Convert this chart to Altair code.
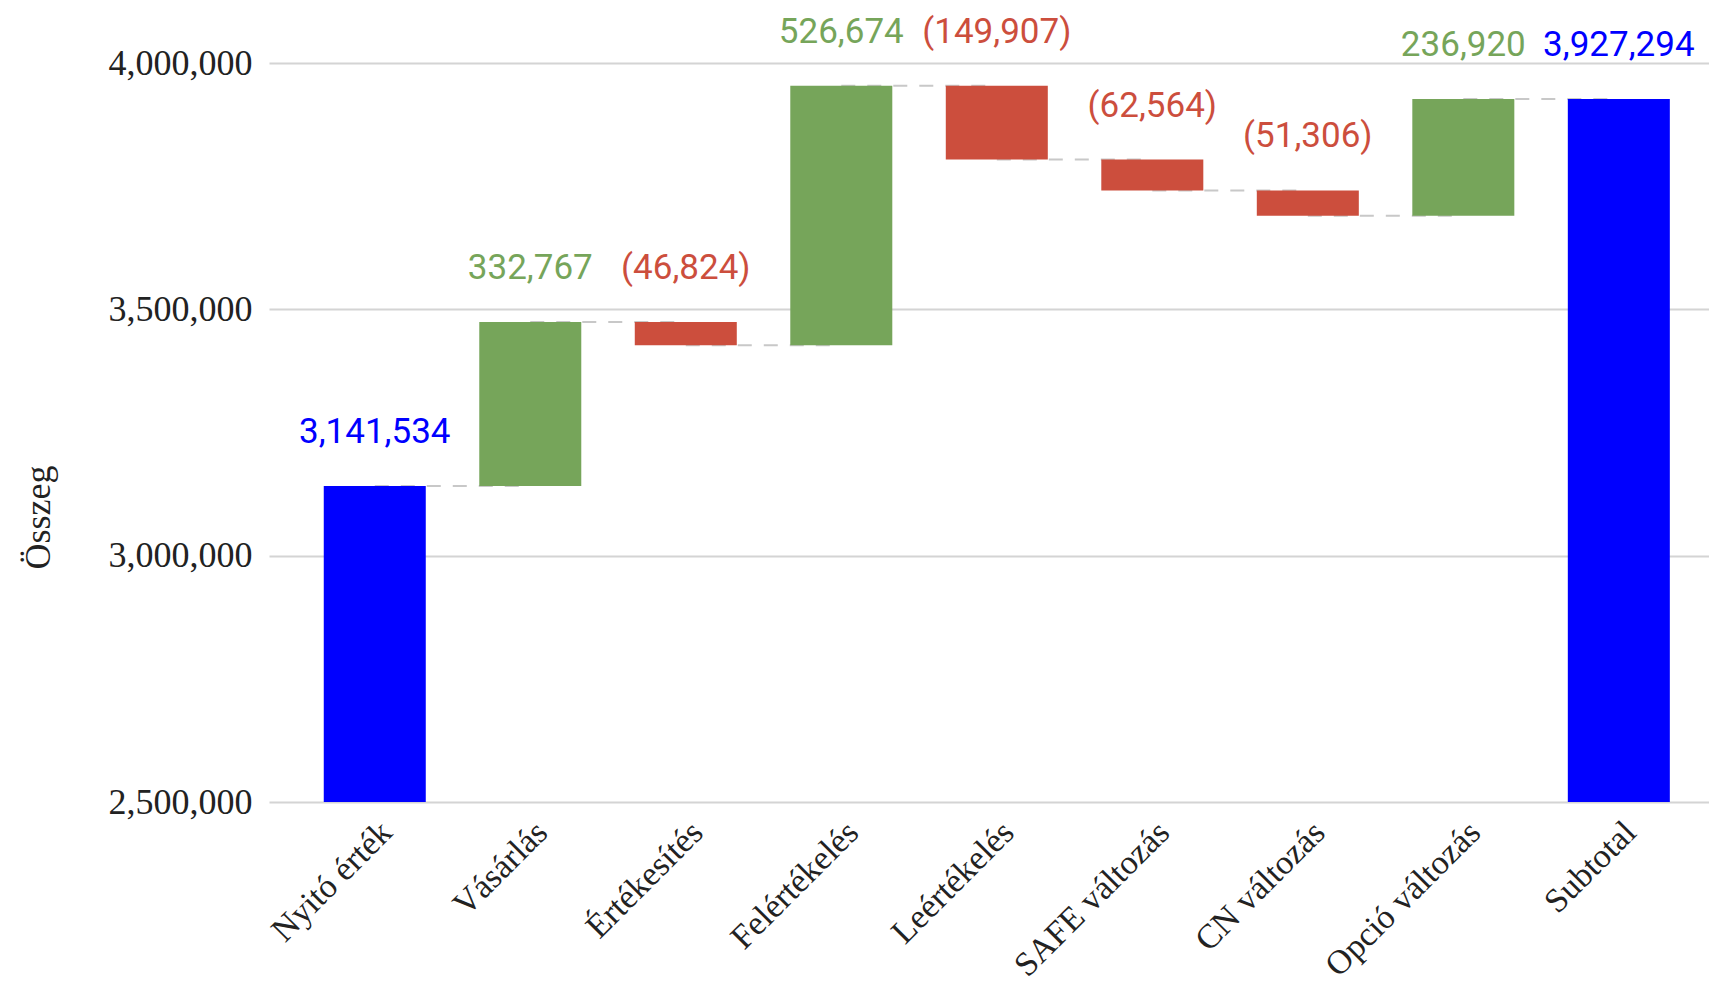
import altair as alt
import pandas as pd

categories = ["Nyitó érték", "Vásárlás", "Értékesítés", "Felértékelés", "Leértékelés",
              "SAFE változás", "CN változás", "Opció változás", "Subtotal"]
amounts = [3141534, 332767, -46824, 526674, -149907, -62564, -51306, 236920, 3927294]
kinds = ["total", "change", "change", "change", "change", "change", "change", "change", "total"]
y_ticks = [2500000, 3000000, 3500000, 4000000]

BLUE = "#0000ff"
GREEN = "#76a55a"
RED = "#cc4e3d"

rows = []
running = 0
for cat, amt, kind in zip(categories, amounts, kinds):
    if kind == "total":
        start, end = 0, amt
        running = amt
        color = BLUE
    else:
        start = running
        end = running + amt
        running = end
        color = GREEN if amt >= 0 else RED
    label = f"{abs(amt):,}" if amt >= 0 else f"({abs(amt):,})"
    rows.append(dict(category=cat, start=start, end=end, top=max(start, end),
                     label=label, color=color))
df = pd.DataFrame(rows)

conn = []
for i in range(len(categories) - 1):
    conn.append(dict(cat=categories[i], nxt=categories[i + 1], level=rows[i]["end"]))
cdf = pd.DataFrame(conn)

xscale = alt.Scale(domain=categories, paddingInner=0.344, paddingOuter=0.302, align=0.583)
xaxis = alt.Axis(title=None, labelAngle=315, labelAlign="right", labelBaseline="top",
                 labelFont="Liberation Serif", labelFontSize=34, labelColor="#222222",
                 labelPadding=13, labelOffset=0, ticks=False, domain=False, grid=False,
                 labelOverlap=False, labelLimit=0)
yscale = alt.Scale(domain=[2500000, 4112000], clamp=True, nice=False, zero=False)
yaxis = alt.Axis(title="Összeg", values=y_ticks, format=",.0f",
                 labelFont="Liberation Serif", labelFontSize=36, labelColor="#222222",
                 labelPadding=17, ticks=False, domain=False, labelLimit=0,
                 gridColor="#d4d4d4", gridWidth=2,
                 titleFont="Liberation Serif", titleFontSize=36, titleFontWeight="normal",
                 titleColor="#222222", titleAngle=270, titleX=-231, titleY=509,
                 titleAlign="center", titleBaseline="middle")

connectors = alt.Chart(cdf).mark_rule(color="#c8c8c8", strokeWidth=2, strokeDash=[14, 12]).encode(
    x=alt.X("cat:N", scale=xscale, axis=xaxis),
    x2=alt.X2("nxt:N"),
    y=alt.Y("level:Q", scale=yscale, axis=yaxis),
)

bars = alt.Chart(df).mark_bar().encode(
    x=alt.X("category:N", scale=xscale, axis=xaxis),
    y=alt.Y("end:Q", scale=yscale, axis=yaxis),
    y2=alt.Y2("start:Q"),
    color=alt.Color("color:N", scale=None),
)

labels = alt.Chart(df).mark_text(font="Roboto", fontSize=35, baseline="alphabetic",
                                  align="center", dy=-43).encode(
    x=alt.X("category:N", scale=xscale, axis=xaxis),
    y=alt.Y("top:Q", scale=yscale, axis=yaxis),
    text="label:N",
    color=alt.Color("color:N", scale=None),
)

chart = alt.layer(connectors, bars, labels).properties(
    width=1440, height=794,
    background="white",
    autosize=alt.AutoSizeParams(type="none"),
    padding={"left": 261, "top": 0, "right": 0, "bottom": 185},
).configure_view(stroke=None)

chart.save("out.html", embed_options={"renderer": "svg", "actions": False})
